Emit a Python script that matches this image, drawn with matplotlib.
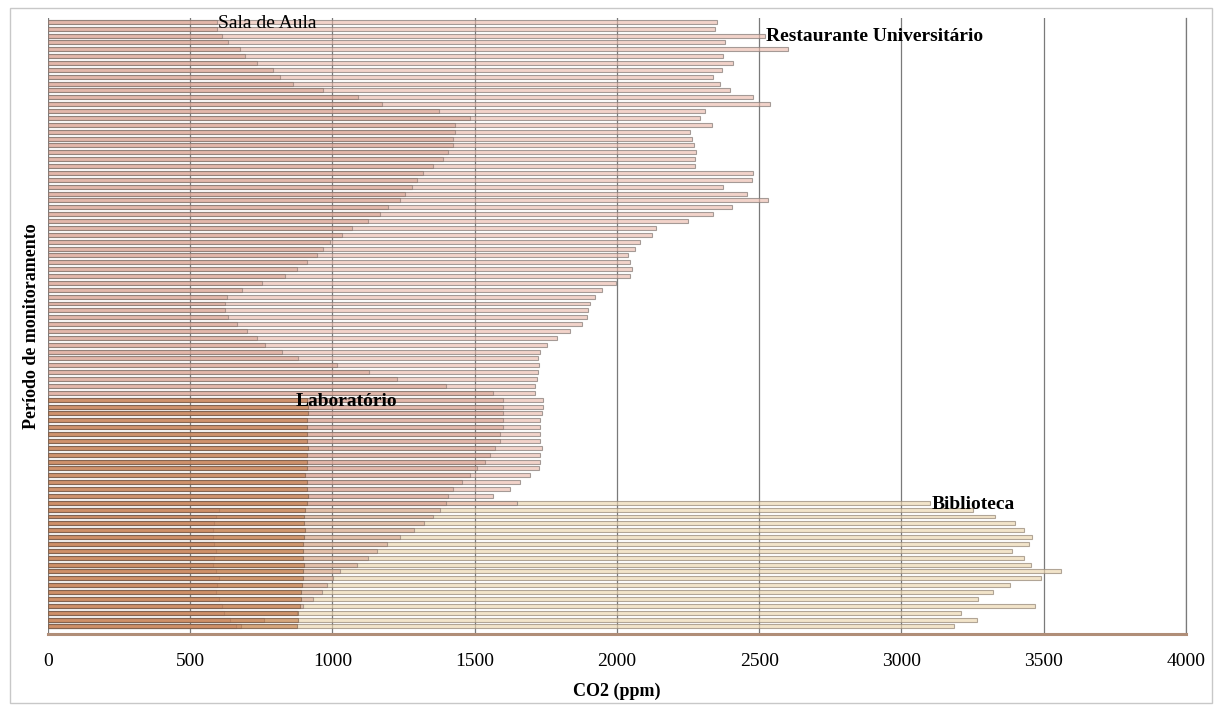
import numpy as np
import matplotlib
matplotlib.use('Agg')
import matplotlib.pyplot as plt
from matplotlib.colors import to_rgba
from matplotlib.patches import Rectangle

plt.rcParams['font.family'] = ['Liberation Serif', 'DejaVu Serif']

# CO2 readings (ppm), one value per monitoring interval, top to bottom
restaurante = [2350, 2345, 2520, 2380, 2600, 2373, 2408, 2370, 2338, 2362,
               2397, 2478, 2538, 2310, 2292, 2333, 2257, 2263, 2270, 2278,
               2274, 2274, 2479, 2474, 2373, 2456, 2530, 2404, 2338, 2250,
               2137, 2123, 2081, 2063, 2039, 2046, 2053, 2046, 1995, 1947,
               1923, 1905, 1898, 1895, 1877, 1835, 1789, 1754, 1729, 1722,
               1726, 1722, 1718, 1712, 1712, 1740, 1740, 1736, 1729, 1729,
               1729, 1729, 1736, 1729, 1729, 1726, 1694, 1659, 1624, 1564,
               1650, 600, 590, 585, 580, 580, 585, 590, 585, 580,
               590, 600, 595, 590, 600, 610, 620, 640, 660]
sala_aula = [594, 594, 611, 633, 675, 692, 734, 791, 815, 861,
             967, 1090, 1174, 1375, 1483, 1430, 1430, 1424, 1424, 1406,
             1389, 1355, 1319, 1297, 1280, 1255, 1237, 1195, 1167, 1125,
             1068, 1033, 991, 967, 945, 910, 875, 833, 752, 681,
             629, 622, 622, 633, 664, 699, 734, 762, 822, 879,
             1016, 1130, 1227, 1400, 1565, 1600, 1600, 1600, 1600, 1600,
             1590, 1590, 1570, 1553, 1536, 1507, 1483, 1455, 1424, 1406,
             1400, 1378, 1355, 1320, 1285, 1237, 1192, 1156, 1125, 1086,
             1026, 1002, 980, 963, 932, 896, 875, 760, 680]
laboratorio = [910, 915, 915, 912, 910, 910, 912, 915, 910, 912,
               910, 905, 910, 912, 915, 910, 905, 900, 900, 905,
               900, 898, 895, 895, 900, 898, 895, 892, 890, 888,
               885, 880, 880, 875]
biblioteca = [3100, 3250, 3330, 3400, 3430, 3460, 3450, 3390, 3430, 3455,
              3560, 3490, 3380, 3320, 3270, 3470, 3210, 3265, 3185]

x_ticks = [0, 500, 1000, 1500, 2000, 2500, 3000, 3500, 4000]

n_rows = len(restaurante)

fig = plt.figure(figsize=(12.15, 7.06), dpi=100)
ax = fig.add_axes([0.0395, 0.102, 0.9366, 0.8725])

# (values, fill, fill alpha, edge, edge alpha, label, weight,
#  bar the label sits on, label x shift)
# drawn back to front
series = [
    (biblioteca, '#ecd6ae', 0.65, '#9a8c7c', 0.75,
     'Biblioteca', 'bold', 0, 5),
    (restaurante, '#eab9aa', 0.62, '#8a807c', 0.75,
     'Restaurante Universitário', 'bold', 2, 5),
    (sala_aula, '#d39a88', 0.48, '#7f6f68', 0.55,
     'Sala de Aula', 'normal', 0, 5),
    (laboratorio, '#c0743c', 0.55, '#6e5240', 0.55,
     'Laboratório', 'bold', 0, -40),
]

# every series ends on the last row; shorter ones start further down
for values, face, fa, edge, ea, name, weight, k, dx in series:
    start = n_rows - len(values)
    rows = np.arange(start, n_rows)
    ax.barh(rows, values, height=0.58, color=to_rgba(face, fa),
            edgecolor=to_rgba(edge, ea), linewidth=0.8, zorder=2)
    ax.text(values[k] + dx, rows[k] + 0.2, name, fontsize=14,
            fontweight=weight, ha='left', va='center', zorder=5)

ax.set_xlim(0, 4000)
ax.set_ylim(n_rows + 0.1, -0.55)
ax.set_xticks(x_ticks)
ax.set_xticklabels([str(t) for t in x_ticks], fontsize=14)
ax.set_yticks([])
ax.tick_params(axis='x', length=0, pad=14)
ax.xaxis.grid(True, color='#7a7a7a', linewidth=0.9, zorder=1)
ax.set_axisbelow(True)

for side in ['top', 'left']:
    ax.spines[side].set_visible(False)
ax.spines['right'].set_color('#7a7a7a')
ax.spines['right'].set_linewidth(0.9)
ax.spines['bottom'].set_color('#b08e78')
ax.spines['bottom'].set_linewidth(2.2)

ax.set_xlabel('CO2 (ppm)', fontsize=13, fontweight='bold', labelpad=9)
ax.set_ylabel('Período de monitoramento', fontsize=13, fontweight='bold',
              labelpad=6)

fig.patches.append(Rectangle((10 / 1215, 3 / 706), 1202 / 1215, 695 / 706,
                             transform=fig.transFigure, fill=False,
                             edgecolor='#c8c8c8', linewidth=1))

fig.savefig('out.png', dpi=100)
